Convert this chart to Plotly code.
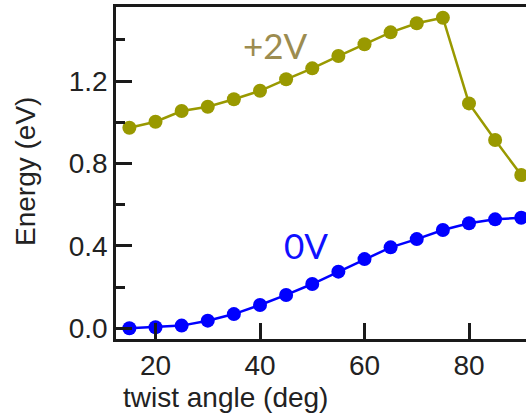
import plotly.graph_objects as go

angles = [15, 20, 25, 30, 35, 40, 45, 50, 55, 60, 65, 70, 75, 80, 85, 90]
e_2v = [0.974, 1.003, 1.055, 1.076, 1.112, 1.153, 1.209, 1.262, 1.322, 1.379,
        1.437, 1.481, 1.508, 1.092, 0.914, 0.744]
e_0v = [0.0, 0.005, 0.013, 0.037, 0.069, 0.113, 0.162, 0.215, 0.275, 0.336,
        0.393, 0.433, 0.477, 0.510, 0.529, 0.537]

olive = "#999900"
blue = "#0000ff"
axcol = "#1a1a1a"
tickfont = dict(family="Liberation Sans, Arial", size=28, color="#222222")

fig = go.Figure()
fig.add_trace(go.Scatter(x=angles, y=e_2v, mode="lines+markers",
                         line=dict(color=olive, width=2.5),
                         marker=dict(color=olive, size=14), cliponaxis=True))
fig.add_trace(go.Scatter(x=angles, y=e_0v, mode="lines+markers",
                         line=dict(color=blue, width=2.5),
                         marker=dict(color=blue, size=14), cliponaxis=True))

fig.update_layout(
    width=526, height=414,
    margin=dict(l=116, r=0, t=7, b=75),
    paper_bgcolor="white", plot_bgcolor="white",
    showlegend=False,
    xaxis=dict(range=[12.44, 90.91], tickvals=[20, 40, 60, 80],
               ticks="inside", ticklen=16, tickwidth=2.5, tickcolor=axcol,
               showline=True, linecolor=axcol, linewidth=2.5, mirror=True,
               showgrid=False, zeroline=False, tickfont=tickfont),
    yaxis=dict(range=[-0.052, 1.56], tickvals=[0.0, 0.4, 0.8, 1.2],
               ticktext=["0.0", "0.4", "0.8", "1.2"],
               ticks="inside", ticklen=16, tickwidth=2.5, tickcolor=axcol,
               minor=dict(tickvals=[0.2, 0.6, 1.0, 1.4], ticks="inside",
                          ticklen=9, tickwidth=2.5, tickcolor=axcol),
               showline=True, linecolor=axcol, linewidth=2.5,
               showgrid=False, zeroline=False, tickfont=tickfont),
    annotations=[
        dict(text="twist angle (deg)", xref="paper", yref="paper",
             x=0.266, y=-0.177, xanchor="center", yanchor="middle",
             showarrow=False, font=dict(family="Liberation Sans, Arial", size=28, color="#222222")),
        dict(text="Energy (eV)", xref="paper", yref="paper",
             x=-0.222, y=0.506, xanchor="center", yanchor="middle", textangle=-90,
             showarrow=False, font=dict(family="Liberation Sans, Arial", size=28, color="#222222")),
        dict(text="+2V", xref="paper", yref="paper", x=0.388, y=0.886,
             xanchor="center", yanchor="middle", showarrow=False,
             font=dict(family="Lato", size=35, color="#9c8c50")),
        dict(text="0V", xref="paper", yref="paper", x=0.463, y=0.283,
             xanchor="center", yanchor="middle", showarrow=False,
             font=dict(family="Lato", size=35, color="#1010ff")),
    ],
)

fig.write_html("out.html")
